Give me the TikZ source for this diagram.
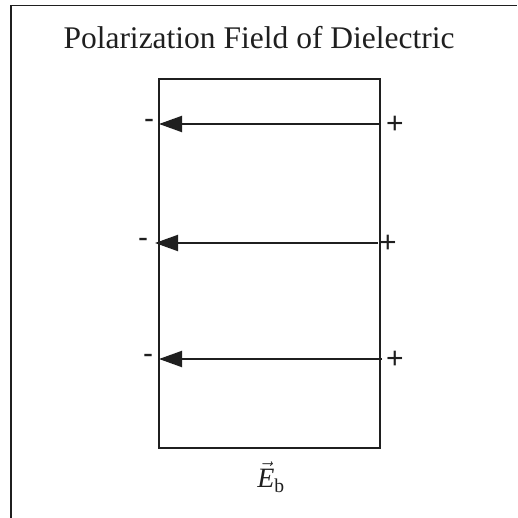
\documentclass[tikz,border=0pt]{standalone}
\usepackage{amsmath}
\usepackage{fontspec}
\setmainfont{Liberation Serif}
\newfontfamily\signfont{Liberation Sans}
\usetikzlibrary{arrows.meta}
\tikzset{
  frame/.style={line width=1.8pt, draw=black!88},
  slab/.style={line width=1.9pt, draw=black!88},
  field/.style={line width=2pt, draw=black!88, -{Triangle[length=23pt,width=16pt]}},
  sign/.style={inner sep=0pt, font=\signfont\fontsize{30}{30}\selectfont, text=black!88},
}
\begin{document}
\begin{tikzpicture}[x=1pt,y=-1pt]
\useasboundingbox (0,0) rectangle (517,518);
% outer frame (top and left only)
\draw[frame] (11,518) -- (11,5.5) -- (517,5.5);
\node[inner sep=0pt, font=\fontsize{31.5}{31.5}\selectfont, text=black!88] (title) at (259,38) {Polarization Field of Dielectric};
% dielectric slab
\node[slab, minimum width=221pt, minimum height=369pt, inner sep=0pt] (box) at (269.5,263.5) {};
% field arrows
\coordinate (r1) at (380,124); \coordinate (l1) at (159,124);
\coordinate (r2) at (378,243); \coordinate (l2) at (155,243);
\coordinate (r3) at (382,359); \coordinate (l3) at (159,359);
\draw[field] (r1) -- (l1);
\draw[field] (r2) -- (l2);
\draw[field] (r3) -- (l3);
% charges
\node[sign] (m1) at (149,124) {-};
\node[sign] (p1) at (395,125) {+};
\node[sign] (m2) at (143,243) {-};
\node[sign] (p2) at (388,244) {+};
\node[sign] (m3) at (148,359) {-};
\node[sign] (p3) at (395,360) {+};
% label
\node[inner sep=0pt, font=\fontsize{28}{28}\selectfont, text=black!88] (eb) at (271,477) {$\vec{\text{\itshape E}}_{\text{b}}$};
\end{tikzpicture}
\end{document}
